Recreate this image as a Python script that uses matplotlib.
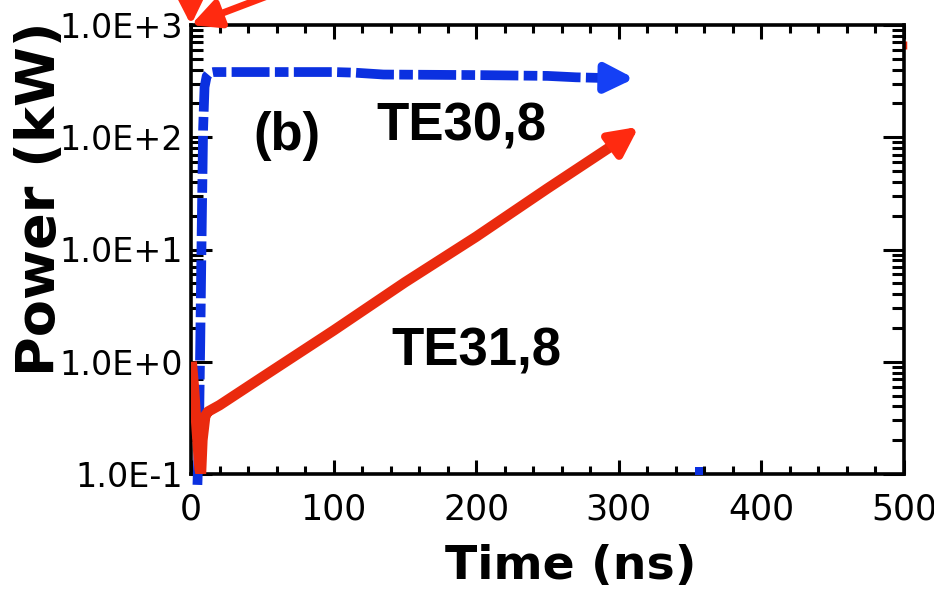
import matplotlib
matplotlib.use('Agg')
import matplotlib.pyplot as plt
import numpy as np
from matplotlib.ticker import FixedLocator, MultipleLocator, LogLocator, FuncFormatter, NullFormatter

# TE30,8 mode power (kW) vs time (ns)
t_te30 = [4.5, 5.5, 6.5, 7.5, 8.5, 9.5, 11, 13, 16, 20, 50, 100, 115, 135, 200, 250, 270, 290, 300]
p_te30 = [0.08, 0.2, 1.5, 15, 120, 280, 350, 375, 381, 381, 381, 381, 376, 362, 358, 352, 342, 337, 336]

# TE31,8 mode power (kW) vs time (ns)
t_te31 = [0.5, 2, 4, 6, 7, 8, 10, 12, 20, 50, 100, 150, 200, 250, 300]
p_te31 = [1.0, 0.6, 0.25, 0.11, 0.1, 0.2, 0.33, 0.36, 0.41, 0.73, 1.9, 5.1, 13, 35, 92]

# arrow heads at the ends of both traces
arrow_te30 = [(300, 336), (311, 334)]
arrow_te31 = [(300, 92), (314, 124)]

# stray marks
blue_mark = (356, 0.106)
red_mark_t = [500.8, 500.8]
red_mark_p = [610, 720]

x_ticks = [0, 100, 200, 300, 400, 500]
y_ticks = [0.1, 1, 10, 100, 1000]

blue = '#0B30E0'
red = '#EA2A0E'

fig = plt.figure(figsize=(9.34, 5.95), dpi=100)
ax = fig.add_axes([191/934, 1-474/595, 713/934, 449/595])

ax.set_yscale('log')
ax.set_xlim(0, 500)
ax.set_ylim(0.1, 1000)

ax.plot(t_te30, p_te30, color=blue, lw=7, dashes=(3.9, 0.55, 1.4, 0.55),
        dash_capstyle='butt', solid_joinstyle='round', zorder=3, clip_on=False)
ax.plot(t_te31, p_te31, color=red, lw=7.5, solid_capstyle='butt',
        solid_joinstyle='round', zorder=4)

ax.annotate('', xy=arrow_te30[1], xytext=arrow_te30[0],
            arrowprops=dict(arrowstyle='-|>,head_length=1.7,head_width=0.85',
                            color='#1540F5', lw=6, shrinkA=0, shrinkB=0,
                            mutation_scale=10), zorder=5)
ax.annotate('', xy=arrow_te31[1], xytext=arrow_te31[0],
            arrowprops=dict(arrowstyle='-|>,head_length=1.7,head_width=0.85',
                            color='#FF2A10', lw=6, shrinkA=0, shrinkB=0,
                            mutation_scale=10), zorder=5)

# red arrows pointing at the top-left corner, running off the figure
for start in [(75, 2300), (-0.5, 3500)]:
    ax.annotate('', xy=(0, 1000), xytext=start, annotation_clip=False,
                arrowprops=dict(arrowstyle='-|>,head_length=1.7,head_width=0.85',
                                color='#FF2A10', lw=5, shrinkA=0, shrinkB=0,
                                mutation_scale=10), zorder=6)

ax.plot(*blue_mark, marker='s', ms=6, color=blue, mew=0, zorder=5)
ax.plot(red_mark_t, red_mark_p, color=red, lw=2.5, solid_capstyle='butt', clip_on=False)

# ticks
ax.xaxis.set_major_locator(FixedLocator(x_ticks))
ax.xaxis.set_minor_locator(MultipleLocator(20))
ax.yaxis.set_major_locator(FixedLocator(y_ticks))
ax.yaxis.set_minor_locator(LogLocator(base=10, subs=np.arange(2, 10)))
ax.yaxis.set_minor_formatter(NullFormatter())
ax.yaxis.set_major_formatter(FuncFormatter(lambda v, pos: f"1.0E{int(round(np.log10(v))):+d}"))

ax.tick_params(which='both', direction='in', top=True, right=True, width=2.2, color='black')
ax.tick_params(axis='x', which='major', length=10, pad=13, labelsize=25)
ax.tick_params(axis='x', which='minor', length=6)
ax.tick_params(axis='y', which='major', length=15, pad=6, labelsize=24)
ax.tick_params(axis='y', which='minor', length=8.5)

for sp in ax.spines.values():
    sp.set_linewidth(2.6)

ax.set_xlabel('Time (ns)', fontsize=34, fontweight='bold')
ax.set_ylabel('Power (kW)', fontsize=39, fontweight='bold')
ax.xaxis.set_label_coords(0.533, -0.155)
ax.yaxis.set_label_coords(-0.176, 0.612)

lab_font = dict(family='Liberation Sans', fontsize=38, fontweight='bold', ha='center', va='center')
ax.text(0.135, 0.752, '(b)', transform=ax.transAxes, **lab_font)
ax.text(0.379, 0.774, 'TE30,8', transform=ax.transAxes, **lab_font)
ax.text(0.40, 0.272, 'TE31,8', transform=ax.transAxes, **lab_font)

fig.savefig('out.png', dpi=100)
